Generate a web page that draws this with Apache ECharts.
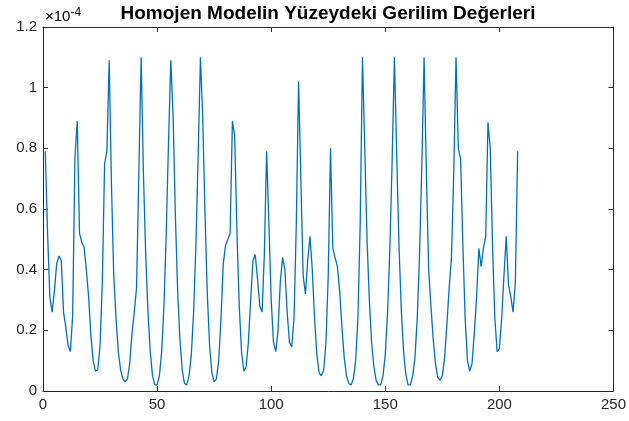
<!DOCTYPE html>
<html>
<head>
<meta charset="utf-8">
<script src="https://cdn.jsdelivr.net/npm/echarts@6/dist/echarts.min.js"></script>
<style>
  html, body { margin: 0; padding: 0; background: #ffffff; }
  #chart { width: 629px; height: 421px; }
</style>
</head>
<body>
<div id="chart"></div>
<script>
// Surface stress of the homogeneous model, in units of 1e-4, sampled at points 1..208
const stress = [
  0.79, 0.52, 0.31, 0.26, 0.33, 0.42, 0.445, 0.43, 0.26, 0.21,
  0.15, 0.13, 0.25, 0.77, 0.89, 0.52, 0.49, 0.475, 0.40, 0.31,
  0.18, 0.10, 0.065, 0.07, 0.15, 0.36, 0.75, 0.79, 1.09, 0.68,
  0.38, 0.24, 0.13, 0.07, 0.04, 0.03, 0.04, 0.09, 0.19, 0.26,
  0.34, 0.72, 1.10, 0.72, 0.45, 0.26, 0.13, 0.05, 0.02, 0.02,
  0.05, 0.13, 0.28, 0.52, 0.82, 1.09, 0.91, 0.58, 0.33, 0.17,
  0.07, 0.025, 0.02, 0.05, 0.12, 0.26, 0.48, 0.78, 1.10, 0.90,
  0.58, 0.32, 0.15, 0.06, 0.03, 0.04, 0.10, 0.24, 0.42, 0.48,
  0.50, 0.52, 0.89, 0.84, 0.52, 0.28, 0.13, 0.065, 0.08, 0.16,
  0.30, 0.43, 0.45, 0.37, 0.28, 0.26, 0.45, 0.79, 0.55, 0.30,
  0.16, 0.13, 0.20, 0.36, 0.44, 0.40, 0.26, 0.16, 0.145, 0.24,
  0.55, 1.02, 0.70, 0.38, 0.32, 0.43, 0.51, 0.40, 0.24, 0.12,
  0.06, 0.05, 0.07, 0.16, 0.38, 0.80, 0.47, 0.44, 0.41, 0.33,
  0.21, 0.11, 0.05, 0.025, 0.02, 0.04, 0.10, 0.24, 0.55, 1.10,
  0.80, 0.50, 0.30, 0.16, 0.08, 0.035, 0.02, 0.02, 0.05, 0.12,
  0.26, 0.47, 0.76, 1.10, 0.78, 0.48, 0.27, 0.13, 0.055, 0.02,
  0.02, 0.05, 0.11, 0.24, 0.45, 0.74, 1.10, 0.72, 0.40, 0.28,
  0.17, 0.09, 0.045, 0.035, 0.05, 0.11, 0.22, 0.34, 0.44, 0.72,
  1.10, 0.80, 0.765, 0.48, 0.24, 0.10, 0.065, 0.09, 0.19, 0.31,
  0.47, 0.41, 0.47, 0.51, 0.886, 0.80, 0.48, 0.24, 0.13, 0.14,
  0.24, 0.38, 0.51, 0.35, 0.31, 0.26, 0.36, 0.79
];

// Axis ranges and tick steps
const xTicks = [0, 50, 100, 150, 200, 250];
const yTicks = [0, 0.2, 0.4, 0.6, 0.8, 1.0, 1.2];
const titleText = 'Homojen Modelin Yüzeydeki Gerilim Değerleri';
const exponentBase = '×10';
const exponentPower = '-4';

const points = stress.map((v, i) => [i + 1, v]);

const FONT = '"Liberation Sans", Arial, Helvetica, sans-serif';
const AXIS_COLOR = '#262626';

const chart = echarts.init(document.getElementById('chart'), null, { renderer: 'canvas' });

const baseX = {
  type: 'value',
  min: xTicks[0],
  max: xTicks[xTicks.length - 1],
  interval: xTicks[1] - xTicks[0],
  splitLine: { show: false },
  axisLine: { show: true, onZero: false, lineStyle: { color: AXIS_COLOR, width: 1 } },
  axisTick: { show: true, inside: true, length: 5, lineStyle: { color: AXIS_COLOR } }
};
const baseY = {
  type: 'value',
  min: yTicks[0],
  max: yTicks[yTicks.length - 1],
  interval: 0.2,
  splitLine: { show: false },
  axisLine: { show: true, onZero: false, lineStyle: { color: AXIS_COLOR, width: 1 } },
  axisTick: { show: true, inside: true, length: 5, lineStyle: { color: AXIS_COLOR } }
};

chart.setOption({
  backgroundColor: '#ffffff',
  animation: false,
  grid: { left: 43, right: 15, top: 27, bottom: 30, containLabel: false },
  xAxis: [
    Object.assign({}, baseX, {
      position: 'bottom',
      axisLabel: { show: true, color: AXIS_COLOR, fontFamily: FONT, fontSize: 15, margin: 6 }
    }),
    Object.assign({}, baseX, { position: 'top', axisLabel: { show: false } })
  ],
  yAxis: [
    Object.assign({}, baseY, {
      position: 'left',
      axisLabel: {
        show: true, color: AXIS_COLOR, fontFamily: FONT, fontSize: 15, margin: 6,
        formatter: v => String(Math.round(v * 10) / 10)
      }
    }),
    Object.assign({}, baseY, { position: 'right', axisLabel: { show: false } })
  ],
  graphic: [
    {
      type: 'text',
      x: 328, y: 14,
      style: {
        text: titleText,
        fill: '#000000',
        font: 'bold 19px ' + FONT,
        textAlign: 'center',
        textVerticalAlign: 'middle'
      }
    },
    {
      type: 'text',
      x: 45, y: 17,
      style: {
        text: '{b|' + exponentBase + '}{p|' + exponentPower + '}',
        textVerticalAlign: 'middle',
        rich: {
          b: { fontFamily: FONT, fontSize: 15, color: AXIS_COLOR },
          p: { fontFamily: FONT, fontSize: 12, color: AXIS_COLOR, verticalAlign: 'top', padding: [0, 0, 8, 0] }
        }
      }
    }
  ],
  series: [{
    type: 'line',
    xAxisIndex: 0,
    yAxisIndex: 0,
    data: points,
    showSymbol: false,
    smooth: false,
    lineStyle: { color: '#0072BD', width: 1.3 },
    itemStyle: { color: '#0072BD' }
  }]
});
</script>
</body>
</html>
